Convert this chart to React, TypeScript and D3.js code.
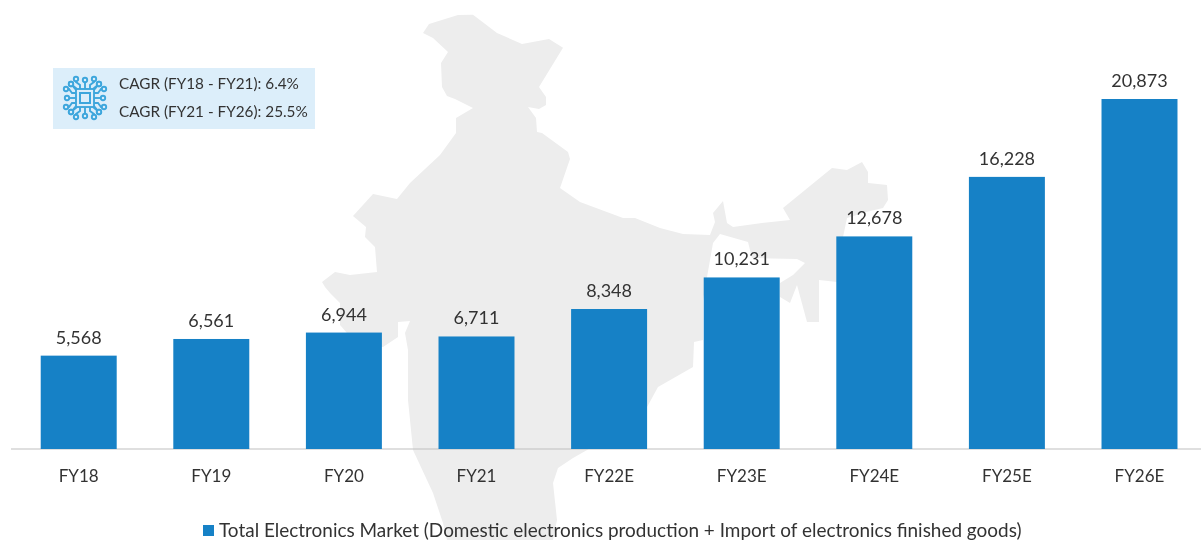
import React from "react";
import * as d3 from "d3";

const categories = ["FY18", "FY19", "FY20", "FY21", "FY22E", "FY23E", "FY24E", "FY25E", "FY26E"];
const marketValues = [5568, 6561, 6944, 6711, 8348, 10231, 12678, 16228, 20873];
const cagrLines = ["CAGR (FY18 - FY21): 6.4%", "CAGR (FY21 - FY26): 25.5%"];
const legendLabel = "Total Electronics Market (Domestic electronics production + Import of electronics finished goods)";

// Traced outline of the decorative backdrop map, in page pixels.
const mapOutline: [number, number][] = [
  [423, 33], [429, 24], [458, 15], [473, 14.7], [497, 33], [522, 44], [549, 39], [563, 47.7],
  [539, 87], [546, 97], [546, 105], [539, 109], [528, 107], [536, 118], [537, 132], [542, 133],
  [568, 152], [570, 159], [560, 188], [580, 202], [623, 218], [635, 218], [660, 228], [683, 234],
  [710, 235], [715, 222], [713, 213], [723, 201], [727, 223], [733, 227], [762, 223], [790, 220],
  [783, 208], [832, 168], [847, 170], [862, 162], [868, 172], [868, 183], [887, 185], [888, 200],
  [883, 208], [866, 212], [847, 218], [843, 237], [837, 282], [819, 280], [819, 322], [807, 322],
  [797, 285], [790, 303], [780, 297], [780, 283], [793, 275], [805, 263], [797, 259], [752, 258],
  [748, 242], [720, 234], [713, 243], [703, 300], [703, 340], [694, 342], [693, 367], [658, 387],
  [640, 420], [573, 458], [558, 468], [553, 483], [557, 520], [553, 540], [447, 540], [443, 523],
  [433, 493], [413, 450], [408, 400], [408, 350], [405, 333], [410, 321], [398, 322], [398, 337],
  [383, 347], [370, 345], [347, 333], [340, 325], [340, 303], [330, 293], [325, 287], [322, 282],
  [335, 272], [350, 275], [377, 272], [375, 247], [365, 237], [366, 227], [353, 216], [373, 194],
  [397, 199], [410, 183], [440, 155], [456, 133], [456, 118], [473, 108], [455, 99], [447, 96],
  [442, 87], [441, 63], [448, 52], [433, 38],
];

// One side of the chip's wiring, repeated round the four sides.
const chipTraces: [number, number][][] = [
  [[0, -9], [0, -18]],
  [[-5, -9], [-5, -13], [-9, -16], [-9, -19]],
  [[5, -9], [5, -13], [9, -16], [9, -19]],
  [[-8, -9], [-14, -14]],
  [[8, -9], [14, -14]],
];

const WIDTH = 1201;
const HEIGHT = 540;
const BASELINE = 449;
const ICON_COLOR = "#3EA6DC";
const TEXT_COLOR = "#333333";
const FONT = "Lato, Carlito, sans-serif";

const x = d3.scaleBand<string>().domain(categories).range([12.4, 1205.8]).paddingInner(0.427).paddingOuter(0.2135);
const y = d3.scaleLinear().domain([0, 25000]).range([BASELINE, BASELINE - 419.2]);
const fmt = d3.format(",");
const mapPath = d3.line().curve(d3.curveLinearClosed)(mapOutline) ?? "";
const tracePath = d3.line();

function ChipIcon({ cx, cy }: { cx: number; cy: number }) {
  return (
    <g transform={`translate(${cx},${cy})`} fill="none" stroke={ICON_COLOR} strokeWidth={1.9}>
      <rect x={-9} y={-9} width={18} height={18} />
      <rect x={-5} y={-5} width={10} height={10} strokeWidth={2} />
      {[0, 90, 180, 270].map((r) => (
        <g key={r} transform={`rotate(${r})`}>
          {chipTraces.map((t, i) => {
            const end = t[t.length - 1];
            return (
              <g key={i}>
                <path d={tracePath(t) ?? ""} />
                <circle cx={end[0]} cy={end[1]} r={2.2} fill="#DCEEFA" />
              </g>
            );
          })}
        </g>
      ))}
    </g>
  );
}

export default function App() {
  return (
    <svg
      width={WIDTH}
      height={HEIGHT}
      viewBox={`0 0 ${WIDTH} ${HEIGHT}`}
      style={{ position: "absolute", left: 0, top: 0, display: "block" }}
      fontFamily={FONT}
    >
      <defs>
        <filter id="soft" x="-5%" y="-5%" width="110%" height="110%">
          <feGaussianBlur stdDeviation={0.5} />
        </filter>
      </defs>
      <rect width={WIDTH} height={HEIGHT} fill="#ffffff" />
      <g filter="url(#soft)">
        <path d={mapPath} fill="#EDEDED" />
        <line x1={11} x2={WIDTH} y1={y(0)} y2={y(0)} stroke="#BFBFBF" strokeWidth={1.2} />
        {categories.map((c, i) => (
          <g key={c}>
            <rect x={x(c)} y={y(marketValues[i])} width={x.bandwidth()} height={y(0) - y(marketValues[i])} fill="#1681C6" />
            <text x={(x(c) ?? 0) + x.bandwidth() / 2} y={y(marketValues[i]) - 12} textAnchor="middle" fontSize={18} fill={TEXT_COLOR}>
              {fmt(marketValues[i])}
            </text>
            <text x={(x(c) ?? 0) + x.bandwidth() / 2} y={482} textAnchor="middle" fontSize={17} fill={TEXT_COLOR}>
              {c}
            </text>
          </g>
        ))}
        <rect x={53} y={68} width={262} height={61} fill="#DCEEFA" />
        <ChipIcon cx={85} cy={98} />
        {cagrLines.map((l, i) => (
          <text key={l} x={119} y={89 + i * 28} fontSize={15.3} fill={TEXT_COLOR}>
            {l}
          </text>
        ))}
        <rect x={203} y={525} width={11} height={11} fill="#1681C6" />
        <text x={219} y={537} fontSize={18.95} fill={TEXT_COLOR}>
          {legendLabel}
        </text>
      </g>
    </svg>
  );
}
